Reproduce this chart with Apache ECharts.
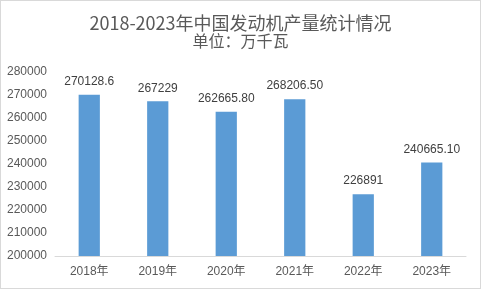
<!DOCTYPE html>
<html><head><meta charset="utf-8">
<script src="https://cdn.jsdelivr.net/npm/echarts@6/dist/echarts.min.js"></script>
<style>html,body{margin:0;padding:0;background:#fff}#c{width:481px;height:289px;box-sizing:border-box;border:1px solid #d9d9d9}</style>
</head><body><div id="c"></div>
<script>
const categories = ['2018年','2019年','2020年','2021年','2022年','2023年'];
const values = [270128.6, 267229, 262665.80, 268206.50, 226891, 240665.10];
const valueLabels = ['270128.6','267229','262665.80','268206.50','226891','240665.10'];
const chart = echarts.init(document.getElementById('c'));
chart.setOption({
  animation:false,
  title:{text:'2018-2023年中国发动机产量统计情况',subtext:'单位：万千瓦',left:'center',top:8,itemGap:1,
    textStyle:{fontSize:18,fontWeight:'normal',color:'#595959',fontFamily:'Noto Sans CJK SC'},
    subtextStyle:{fontSize:16,color:'#595959',fontFamily:'Noto Sans CJK SC'}},
  grid:{left:54,right:14,top:71,bottom:32},
  xAxis:{type:'category',data:categories,axisTick:{show:false},
    axisLine:{lineStyle:{color:'#d9d9d9'}},
    axisLabel:{color:'#595959',fontSize:12,margin:10,fontFamily:'Liberation Sans, Noto Sans CJK SC'}},
  yAxis:{type:'value',min:200000,max:280000,interval:10000,splitLine:{show:false},
    axisLine:{show:false},axisTick:{show:false},
    axisLabel:{color:'#595959',fontSize:12,margin:8,fontFamily:'Liberation Sans',formatter:v=>String(v)}},
  series:[{type:'bar',data:values,barWidth:'31%',itemStyle:{color:'#5b9bd5'},
    label:{show:true,position:'top',distance:7,color:'#404040',fontSize:12,fontFamily:'Liberation Sans',
      formatter:p=>valueLabels[p.dataIndex]}}]
});
</script></body></html>
